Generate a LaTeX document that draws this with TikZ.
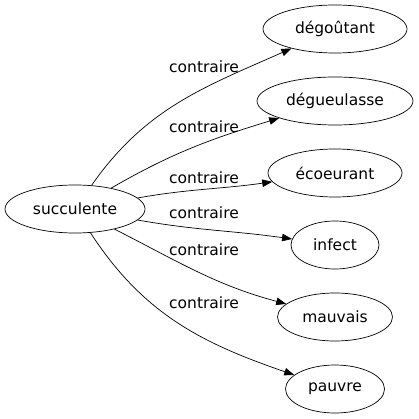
\documentclass[tikz,border=0pt]{standalone}
\usepackage{fontspec}
\setmainfont{DejaVu Sans}
\usetikzlibrary{shapes.geometric,arrows.meta}
\begin{document}
\begin{tikzpicture}[x=1pt,y=-1pt,
  word/.style={draw,ellipse,inner sep=0pt,minimum height=48pt,line width=0.7pt,font=\fontsize{15.5}{18}\selectfont},
  rel/.style={font=\fontsize{15.5}{18}\selectfont,inner sep=0pt},
  link/.style={line width=0.7pt,-{Triangle[length=10pt,width=7.5pt]}}]
\useasboundingbox (0,0) rectangle (419,419);
\node[word,minimum width=140pt] (s) at (75,209) {succulente};
\node[word,minimum width=144pt] (t1) at (335,29) {dégoûtant};
\node[word,minimum width=156pt] (t2) at (335,101) {dégueulasse};
\node[word,minimum width=134pt] (t3) at (335,173) {écoeurant};
\node[word,minimum width=88pt] (t4) at (335,245) {infect};
\node[word,minimum width=115pt] (t5) at (335,317) {mauvais};
\node[word,minimum width=99pt] (t6) at (335,389) {pauvre};
\node[rel] (l1) at (204,67) {contraire};
\node[rel] (l2) at (204,127) {contraire};
\node[rel] (l3) at (204,177.5) {contraire};
\node[rel] (l4) at (204,213) {contraire};
\node[rel] (l5) at (204,250) {contraire};
\node[rel] (l6) at (204,303) {contraire};
\draw[link] (s) to[out=55,in=204] (t1);
\draw[link] (s) to[out=30,in=197] (t2);
\draw[link] (s) to[out=10,in=188] (t3);
\draw[link] (s) to[out=-10,in=172] (t4);
\draw[link] (s) to[out=-27,in=165] (t5);
\draw[link] (s) to[out=-57,in=161] (t6);
\end{tikzpicture}
\end{document}
